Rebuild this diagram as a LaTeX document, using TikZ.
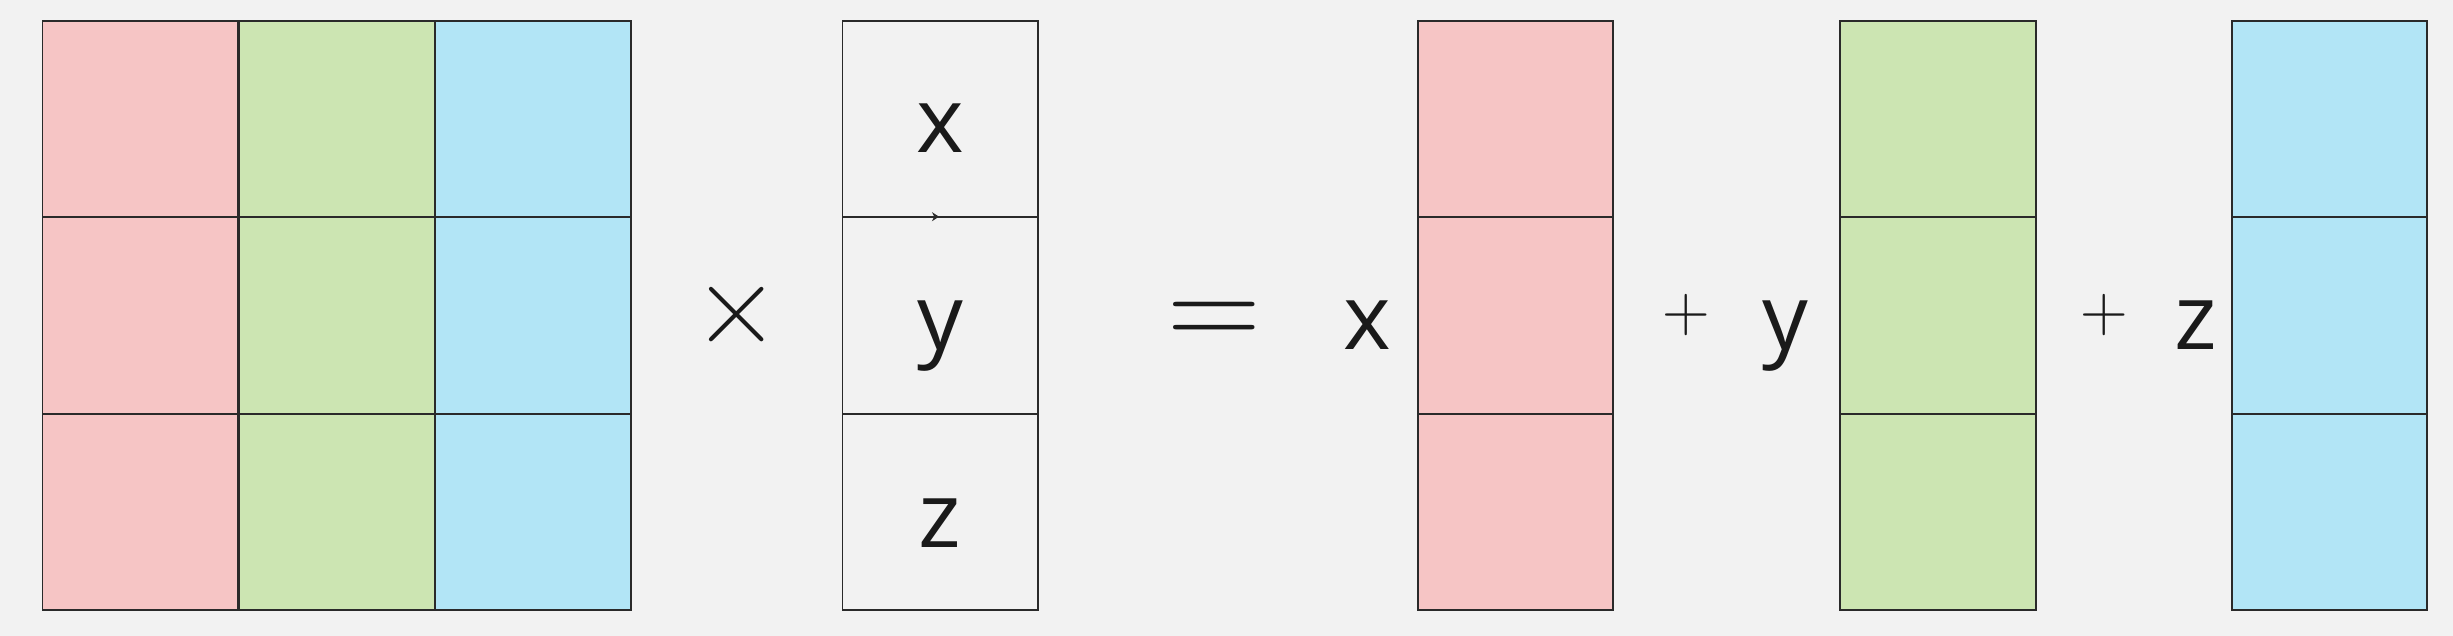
\documentclass[tikz,border=0pt]{standalone}
\usepackage{fontspec}
\setmainfont{Open Sans}
\newfontfamily\lmfont{Latin Modern Roman}
\usetikzlibrary{arrows.meta}
\definecolor{bg}{HTML}{F2F2F2}
\definecolor{cellred}{HTML}{F6C5C5}
\definecolor{cellgreen}{HTML}{CCE5B2}
\definecolor{cellblue}{HTML}{B2E5F6}
\definecolor{ink}{HTML}{1A1A1A}
\definecolor{edge}{HTML}{2A2A2A}
\begin{document}
\begin{tikzpicture}[x=1pt,y=-1pt,
  cell/.style={draw=edge, line width=1.8pt, minimum width=195.6pt, minimum height=196.4pt, inner sep=0pt, outer sep=0pt, anchor=center},
  redcell/.style={cell, fill=cellred},
  greencell/.style={cell, fill=cellgreen},
  bluecell/.style={cell, fill=cellblue},
  emptycell/.style={cell, fill=bg},
  lbl/.style={font=\fontsize{91}{91}\selectfont, text=ink, inner sep=0pt, anchor=base},
  opsym/.style={text=ink, inner sep=0pt, anchor=center},
  tinyarrow/.style={draw=edge, line width=1pt, -{Stealth[length=7pt,width=9pt]}}]
\fill[bg] (0,0) rectangle (2453,636);
\useasboundingbox (0,0) rectangle (2453,636);
% matrix A
\node[redcell]   (a11) at (140.25,118.9) {};
\node[greencell] (a12) at (336.75,118.9) {};
\node[bluecell]  (a13) at (533.25,118.9) {};
\node[redcell]   (a21) at (140.25,315.35) {};
\node[greencell] (a22) at (336.75,315.35) {};
\node[bluecell]  (a23) at (533.25,315.35) {};
\node[redcell]   (a31) at (140.25,511.8) {};
\node[greencell] (a32) at (336.75,511.8) {};
\node[bluecell]  (a33) at (533.25,511.8) {};
% times
\node[opsym, font=\lmfont\fontsize{120}{120}\selectfont] (times) at (737,315) {×};
% vector
\node[emptycell] (v1) at (940.2,118.9) {};
\node[emptycell] (v2) at (940.2,315.35) {};
\node[emptycell] (v3) at (940.2,511.8) {};
\node[lbl] (vx) at (940.2,153) {x};
\node[lbl] (vy) at (940.2,349.3) {y};
\node[lbl] (vz) at (940.2,547.5) {z};
\coordinate (abase) at (931,216.7);
\coordinate (atip) at (939,216.7);
\draw[tinyarrow] (abase) -- (atip);
% equals
\node[opsym, font=\lmfont\fontsize{130}{130}\selectfont] (eq) at (1214,325) {=};
% result columns
\node[lbl] (lx) at (1367.5,349.3) {x};
\node[redcell] (r1) at (1515.5,118.9) {};
\node[redcell] (r2) at (1515.5,315.35) {};
\node[redcell] (r3) at (1515.5,511.8) {};
\node[opsym, font=\lmfont\fontsize{66}{66}\selectfont] (p1) at (1686,315.3) {+};
\node[lbl] (ly) at (1785,349.3) {y};
\node[greencell] (g1) at (1937.9,118.9) {};
\node[greencell] (g2) at (1937.9,315.35) {};
\node[greencell] (g3) at (1937.9,511.8) {};
\node[opsym, font=\lmfont\fontsize{66}{66}\selectfont] (p2) at (2104,315.3) {+};
\node[lbl] (lz) at (2195.5,349.3) {z};
\node[bluecell] (b1) at (2329.5,118.9) {};
\node[bluecell] (b2) at (2329.5,315.35) {};
\node[bluecell] (b3) at (2329.5,511.8) {};
\end{tikzpicture}
\end{document}
